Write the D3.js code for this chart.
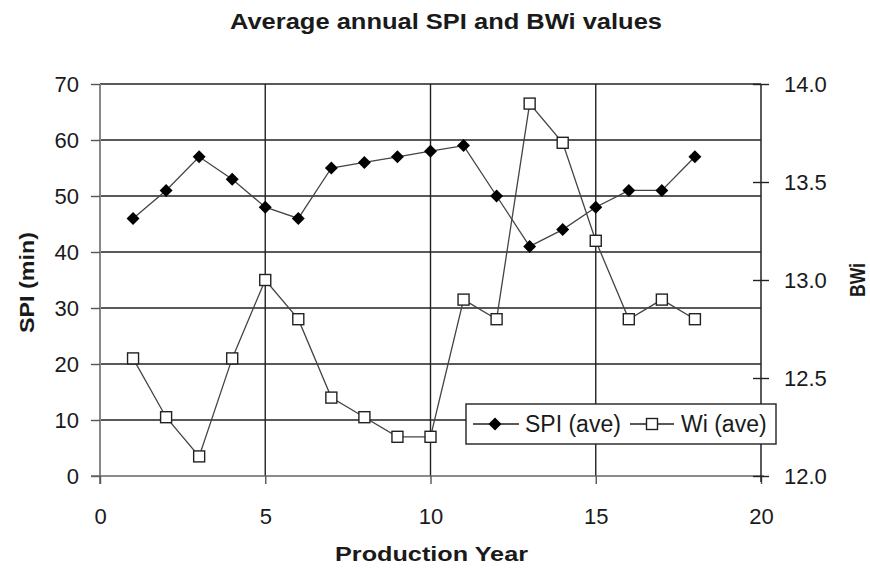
<!DOCTYPE html>
<html><head><meta charset="utf-8">
<script src="https://cdn.jsdelivr.net/npm/d3@7"></script>
<style>body{margin:0;background:#fff}svg{display:block}text{font-family:"Liberation Sans",Arial,sans-serif}</style>
</head><body><svg id="c" width="870" height="568"></svg>
<script>
const years = [1,2,3,4,5,6,7,8,9,10,11,12,13,14,15,16,17,18];
const spiAve = [46,51,57,53,48,46,55,56,57,58,59,50,41,44,48,51,51,57];
const wiAve = [12.6,12.3,12.1,12.6,13.0,12.8,12.4,12.3,12.2,12.2,12.9,12.8,13.9,13.7,13.2,12.8,12.9,12.8];
const xTicks = [0,5,10,15,20];
const yLeftTicks = [0,10,20,30,40,50,60,70];
const yRightTicks = [12.0,12.5,13.0,13.5,14.0];
const legendLabels = ["SPI (ave)","Wi (ave)"];
const titleText = "Average annual SPI and BWi values";

const svg = d3.select("#c");
const L=100, R=761, T=84, B=476;
const x = d3.scaleLinear().domain([0,20]).range([L,R]);
const yL = d3.scaleLinear().domain([0,70]).range([B,T]);
const yR = d3.scaleLinear().domain([12,14]).range([B,T]);
const ink = "#1a1a1a";

// gridlines
svg.append("g").selectAll("line").data(yLeftTicks.filter(d=>d>0)).join("line")
  .attr("x1",L).attr("x2",R).attr("y1",d=>yL(d)).attr("y2",d=>yL(d))
  .attr("stroke","#222").attr("stroke-width",1.4);
svg.append("g").selectAll("line").data(xTicks.filter(d=>d>0&&d<20)).join("line")
  .attr("x1",d=>x(d)).attr("x2",d=>x(d)).attr("y1",T).attr("y2",B)
  .attr("stroke","#222").attr("stroke-width",1.4);

// left axis
const gL = svg.append("g").attr("transform",`translate(${L},0)`)
  .call(d3.axisLeft(yL).tickValues(yLeftTicks).tickSize(9).tickPadding(12).tickFormat(d3.format("d")));
gL.select(".domain").attr("stroke","#888").attr("stroke-width",2).attr("d",`M0,${T}V${B+8}`);
gL.selectAll(".tick line").attr("stroke","#555").attr("stroke-width",1.4);
gL.selectAll("text").attr("font-size",22).attr("fill",ink);

// bottom axis
const gB = svg.append("g").attr("transform",`translate(0,${B})`)
  .call(d3.axisBottom(x).tickValues(xTicks).tickSize(8).tickPadding(24).tickFormat(d3.format("d")));
gB.select(".domain").attr("stroke","#666").attr("stroke-width",1.6).attr("d",`M${L-9},0H${R+3}`);
gB.selectAll(".tick line").attr("stroke","#555").attr("stroke-width",1.4);
gB.selectAll("text").attr("font-size",22).attr("fill",ink);

// right axis
const gR = svg.append("g").attr("transform",`translate(${R},0)`)
  .call(d3.axisRight(yR).tickValues(yRightTicks).tickSize(8).tickPadding(15).tickFormat(d3.format(".1f")));
gR.select(".domain").attr("stroke","#222").attr("stroke-width",1.5).attr("d",`M0,${T}V${B+6}`);
gR.selectAll(".tick line").attr("stroke","#222").attr("stroke-width",1.4).attr("x1",-8);
gR.selectAll("text").attr("font-size",22).attr("fill",ink);

// lines
const lineSpi = d3.line().x((d,i)=>x(years[i])).y(d=>yL(d));
const lineWi = d3.line().x((d,i)=>x(years[i])).y(d=>yR(d));
svg.append("path").attr("d",lineSpi(spiAve)).attr("fill","none").attr("stroke","#444").attr("stroke-width",1.3);
svg.append("path").attr("d",lineWi(wiAve)).attr("fill","none").attr("stroke","#444").attr("stroke-width",1.3);

const diamondSym = d3.symbol().type(d3.symbolSquare).size(84);
svg.append("g").selectAll("path").data(spiAve).join("path")
  .attr("d",diamondSym).attr("transform",(d,i)=>`translate(${x(years[i])},${yL(d)}) rotate(45)`)
  .attr("fill","#000");
svg.append("g").selectAll("rect").data(wiAve).join("rect")
  .attr("x",(d,i)=>x(years[i])-5.5).attr("y",d=>yR(d)-5.5).attr("width",11).attr("height",11)
  .attr("fill","#fff").attr("stroke","#222").attr("stroke-width",1.4);

// legend
const lg = svg.append("g");
lg.append("rect").attr("x",466).attr("y",404).attr("width",310).attr("height",40)
  .attr("fill","#fff").attr("stroke","#222").attr("stroke-width",1.4);
lg.append("line").attr("x1",473).attr("x2",519).attr("y1",424).attr("y2",424).attr("stroke","#222").attr("stroke-width",1.4);
lg.append("path").attr("d",diamondSym).attr("transform","translate(495,424) rotate(45)").attr("fill","#000");
lg.append("text").attr("x",525).attr("y",432).attr("font-size",23).attr("fill",ink).text(legendLabels[0]);
lg.append("line").attr("x1",630).attr("x2",674).attr("y1",424).attr("y2",424).attr("stroke","#222").attr("stroke-width",1.4);
lg.append("rect").attr("x",646.5).attr("y",418.5).attr("width",11).attr("height",11).attr("fill","#fff").attr("stroke","#222").attr("stroke-width",1.4);
lg.append("text").attr("x",681).attr("y",432).attr("font-size",23).attr("fill",ink).text(legendLabels[1]);

// titles
svg.append("text").attr("x",446).attr("y",29).attr("text-anchor","middle").attr("font-size",22).attr("font-weight","bold").attr("fill",ink)
  .attr("textLength",432).attr("lengthAdjust","spacingAndGlyphs").text(titleText);
svg.append("text").attr("x",431.5).attr("y",561).attr("text-anchor","middle").attr("font-size",21).attr("font-weight","bold").attr("fill",ink)
  .attr("textLength",193).attr("lengthAdjust","spacingAndGlyphs").text("Production Year");
svg.append("text").attr("transform","translate(34,282.5) rotate(-90)").attr("text-anchor","middle").attr("font-size",21).attr("font-weight","bold").attr("fill",ink)
  .attr("textLength",101).attr("lengthAdjust","spacingAndGlyphs").text("SPI (min)");
svg.append("text").attr("transform","translate(865,280) rotate(-90)").attr("text-anchor","middle").attr("font-size",22).attr("font-weight","bold").attr("fill",ink)
  .attr("textLength",34).attr("lengthAdjust","spacingAndGlyphs").text("BWi");
</script></body></html>
